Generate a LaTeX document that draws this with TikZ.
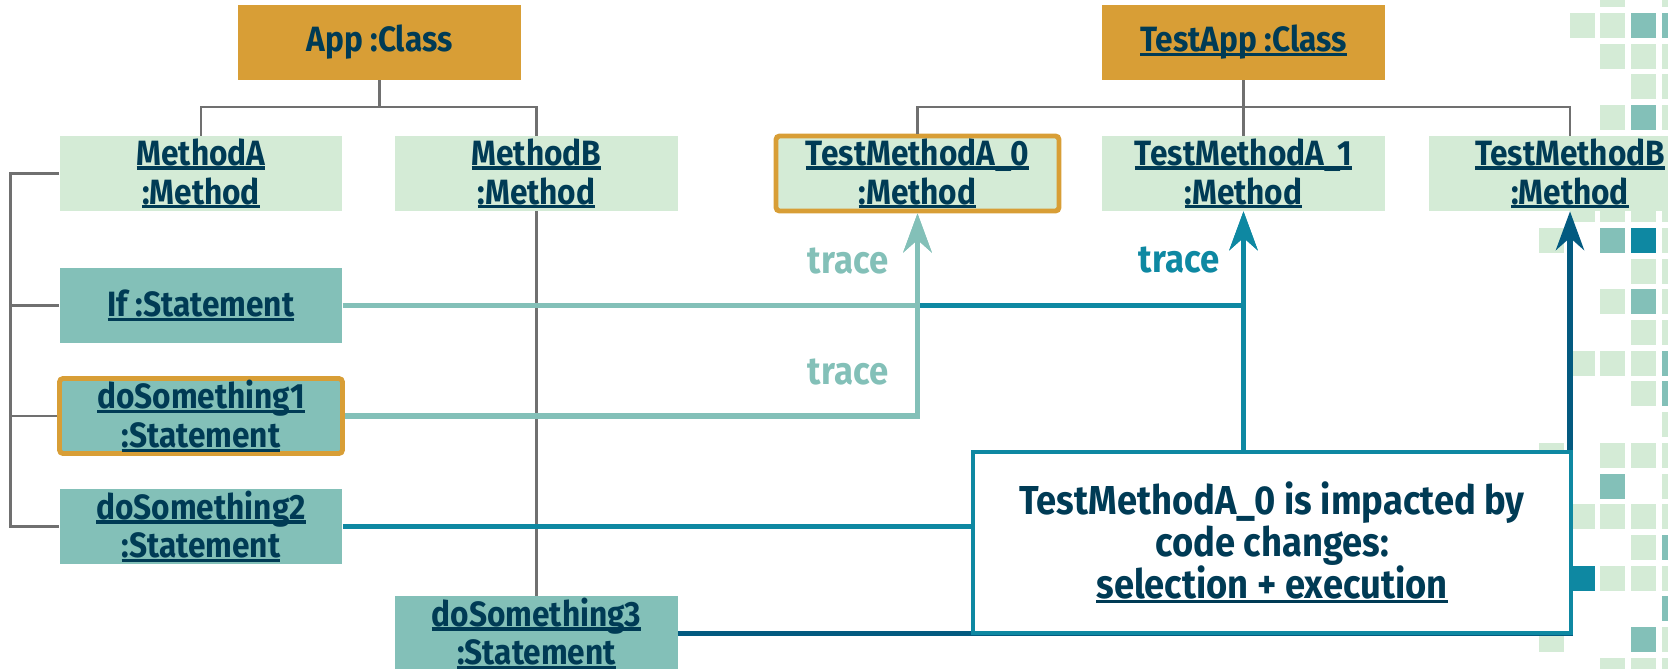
\documentclass[tikz,border=0pt]{standalone}
\usepackage{fontspec}
\setmainfont{Fira Sans}[FakeStretch=0.9]
\usetikzlibrary{arrows.meta}
\definecolor{gold}{HTML}{D89E36}
\definecolor{mint}{HTML}{D4EBD6}
\definecolor{sea}{HTML}{83C0B8}
\definecolor{petrol}{HTML}{0E88A2}
\definecolor{deepblue}{HTML}{035A80}
\definecolor{navy}{HTML}{003B55}
\definecolor{linegray}{HTML}{707070}
\newcommand{\uln}[1]{\setbox0=\hbox{#1}\rlap{\rule[-0.12em]{\wd0}{0.09em}}\box0}
\tikzset{
  classbox/.style={fill=gold,text=navy,minimum width=5.66cm,minimum height=1.5cm,inner sep=0pt},
  methodbox/.style={fill=mint,text=navy,align=center,minimum width=5.66cm,minimum height=1.5cm,inner sep=0pt},
  stmtbox/.style={methodbox,fill=sea},
  hilite/.style={draw=gold,line width=2.8pt,rounded corners=2pt},
  tree/.style={draw=linegray,line width=1.4pt},
  tracearrow/.style={line width=3.2pt,-{Stealth[length=22pt,width=16pt,inset=7pt]}},
  tracelbl/.style={font=\fontsize{22}{24}\selectfont\bfseries}
}
\begin{document}
\begin{tikzpicture}[x=0.02cm,y=-0.02cm,font=\fontsize{20}{22}\selectfont\bfseries]
\useasboundingbox (0,0) rectangle (1668,669);
\clip (0,0) rectangle (1668,669);
\foreach \r/\c/\col in {0/2/mint,0/4/mint,1/1/mint,1/2/mint,1/3/sea,1/4/sea,2/2/mint,2/3/mint,2/4/mint,
  3/3/mint,3/4/mint,4/2/mint,4/3/sea,4/4/mint,7/1/mint,7/2/mint,7/3/mint,7/4/mint,
  8/0/mint,8/2/sea,8/3/petrol,8/4/mint,9/3/mint,9/4/mint,10/2/mint,10/3/sea,10/4/mint,
  11/3/mint,11/4/mint,12/1/mint,12/2/mint,12/3/mint,12/4/sea,13/3/mint,13/4/sea,14/4/mint,
  15/0/mint,15/2/mint,15/3/mint,15/4/mint,16/2/sea,16/4/mint,17/1/mint,17/2/mint,17/3/mint,17/4/mint,
  18/3/mint,18/4/sea,19/1/petrol,19/2/mint,19/3/mint,19/4/mint,20/4/sea,
  21/0/mint,21/3/sea,21/4/mint,22/2/mint,22/3/mint,22/4/mint}
  \fill[\col] (1539+30.7*\c,-17.7+30.7*\r) rectangle ++(25,25);

\node[classbox] (app) at (379.5,42.5) {App :Class};
\node[classbox] (testapp) at (1243.5,42.5) {\uln{TestApp :Class}};
\node[methodbox] (methA) at (201,173.5) {\uln{MethodA}\\\uln{:Method}};
\node[methodbox] (methB) at (536.5,173.5) {\uln{MethodB}\\\uln{:Method}};
\node[methodbox,hilite] (tmA0) at (917.5,173.5) {\uln{TestMethodA\_0}\\\uln{:Method}};
\node[methodbox] (tmA1) at (1243.5,173.5) {\uln{TestMethodA\_1}\\\uln{:Method}};
\node[methodbox] (tmB) at (1570,173.5) {\uln{TestMethodB}\\\uln{:Method}};
\node[stmtbox] (ifst) at (201,305.5) {\uln{If :Statement}};
\node[stmtbox,hilite] (do1) at (201,416) {\uln{doSomething1}\\\uln{:Statement}};
\node[stmtbox] (do2) at (201,526.5) {\uln{doSomething2}\\\uln{:Statement}};
\node[stmtbox] (do3) at (536.5,633.5) {\uln{doSomething3}\\\uln{:Statement}};

\coordinate (appJ) at (379.5,107);
\coordinate (testJ) at (1243.5,107);
\coordinate (spine) at (10.5,173.5);
\draw[tree] (app.south) -- (appJ);
\draw[tree] (methA.north) |- (appJ) -| (methB.north);
\draw[tree] (testapp.south) -- (tmA1.north);
\draw[tree] (tmA0.north) |- (testJ) -| (tmB.north);
\draw[tree] (methA.west) -- (spine) |- (do2.west);
\draw[tree] (ifst.west) -- (ifst.west -| spine);
\draw[tree] (do1.west) -- (do1.west -| spine);
\draw[tree] (methB.south) -- (do3.north);

\draw[tracearrow,petrol] (ifst.east) -| (tmA1.south);
\draw[tracearrow,petrol] (do2.east) -| (tmA1.south);
\draw[tracearrow,sea] (ifst.east) -| (tmA0.south);
\draw[tracearrow,sea] (do1.east) -| (tmA0.south);
\draw[tracearrow,deepblue] (do3.east) -| (tmB.south);

\node[tracelbl,text=sea] (lblA) at (848,261) {trace};
\node[tracelbl,text=sea] (lblB) at (848,372) {trace};
\node[tracelbl,text=petrol] (lblC) at (1179,260) {trace};

\node[draw=petrol,line width=1.8pt,fill=white,text=navy,align=center,minimum width=11.96cm,minimum height=3.62cm,
  font=\fontsize{23}{24}\selectfont\bfseries] (note) at (1272,542.5)
  {TestMethodA\_0 is impacted by\\code changes:\\\uln{selection + execution}};
\end{tikzpicture}
\end{document}
